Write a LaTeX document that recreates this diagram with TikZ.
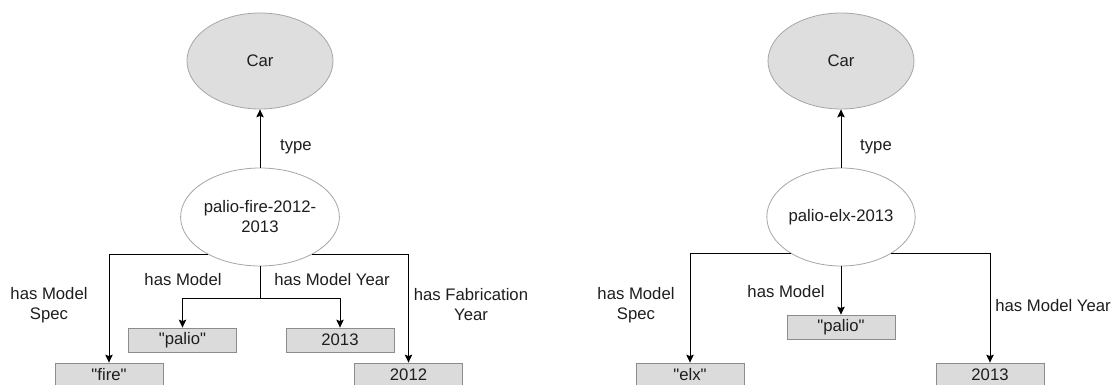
\documentclass[tikz,border=0pt]{standalone}
\usepackage{fontspec}
\setmainfont{Liberation Sans}
\usetikzlibrary{arrows.meta,shapes.geometric}
\definecolor{ellfill}{HTML}{DEDEDE}
\definecolor{ellline}{HTML}{A6A6A6}
\definecolor{boxfill}{HTML}{DBDBDB}
\definecolor{boxline}{HTML}{8C8C8C}
\definecolor{txt}{HTML}{1E1E1E}
\newcommand{\sq}{\textquotedbl}
\tikzset{
  every node/.style={font=\fontsize{16.7}{20}\selectfont, text=txt},
  classnode/.style={ellipse, draw=ellline, fill=ellfill, line width=0.8pt, minimum width=146pt, minimum height=96pt, inner sep=0pt},
  instnode/.style={ellipse, draw=ellline, fill=white, line width=0.8pt, minimum width=146pt, minimum height=98pt, inner sep=0pt, align=center},
  litbox/.style={rectangle, draw=boxline, fill=boxfill, line width=0.8pt, minimum width=108pt, minimum height=24pt, inner sep=0pt},
  edgelabel/.style={align=center, inner sep=0pt},
  arr/.style={draw=black, line width=1pt, -{Stealth[length=8pt,width=7.5pt,inset=1.5pt]}},
  plain/.style={draw=black, line width=1pt}
}
\begin{document}
\begin{tikzpicture}[x=1pt,y=-1pt]
\useasboundingbox (0,0) rectangle (1113,385);
\clip (0,0) rectangle (1113,385);
\fill[white] (0,0) rectangle (1113,385);
% ---------- left graph ----------
\node[classnode] (car1) at (260,61) {Car};
\node[instnode] (pf) at (260,217) {palio-fire-2012-\\2013};
\node[litbox] (fire) at (109,375) {\sq fire\sq};
\node[litbox] (palio1) at (182.5,340) {\sq palio\sq};
\node[litbox] (y2013a) at (340,340) {2013};
\node[litbox] (y2012) at (408.5,375) {2012};
\coordinate (j1) at (260,298);
\draw[arr] (pf) -- (car1);
\draw[arr] (pf.216) -| (fire);
\draw[arr] (pf.324) -| (y2012);
\draw[plain] (pf.south) -- (j1);
\draw[arr] (j1) -| (palio1);
\draw[arr] (j1) -| (y2013a);
\node[edgelabel] (lt1) at (296,147) {type};
\node[edgelabel] (lms1) at (49,305) {has Model\\Spec};
\node[edgelabel] (lm1) at (183,280) {has Model};
\node[edgelabel] (lmy1) at (332,280) {has Model Year};
\node[edgelabel] (lfy1) at (471,305) {has Fabrication\\Year};
% ---------- right graph ----------
\node[classnode] (car2) at (841,61) {Car};
\node[instnode] (pe) at (841,217) {palio-elx-2013};
\node[litbox] (elx) at (690,375) {\sq elx\sq};
\node[litbox] (palio2) at (841,327) {\sq palio\sq};
\node[litbox] (y2013b) at (990,375) {2013};
\draw[arr] (pe) -- (car2);
\draw[arr] (pe.216) -| (elx);
\draw[arr] (pe.324) -| (y2013b);
\draw[arr] (pe) -- (palio2);
\node[edgelabel] (lt2) at (876,147) {type};
\node[edgelabel] (lms2) at (636,305) {has Model\\Spec};
\node[edgelabel] (lm2) at (786,292) {has Model};
\node[edgelabel] (lmy2) at (1053,306) {has Model Year};
\end{tikzpicture}
\end{document}
